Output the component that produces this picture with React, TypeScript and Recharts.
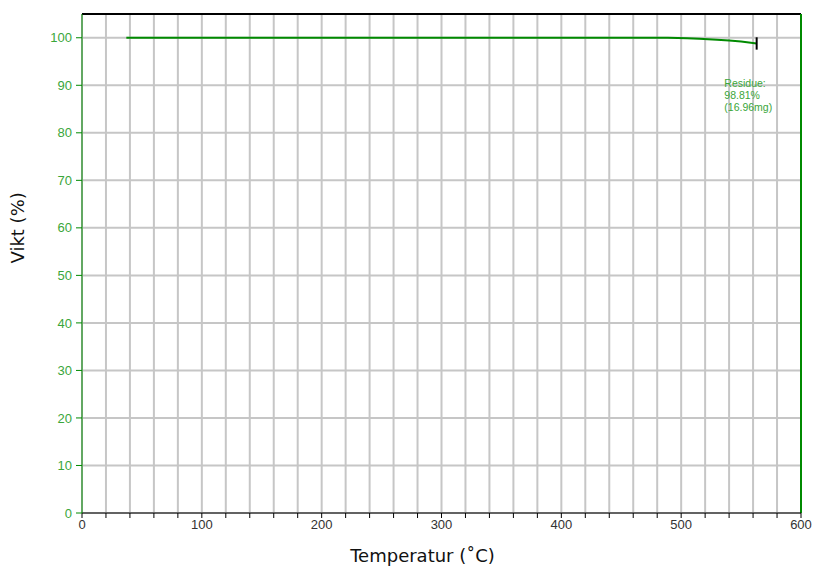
import { LineChart, Line, XAxis, YAxis, CartesianGrid, ReferenceLine, ReferenceDot } from "recharts";

const temps = [37, 100, 200, 300, 400, 489, 505, 515, 530, 540, 550, 563];
const weights = [100, 100, 100, 100, 100, 100, 99.9, 99.8, 99.6, 99.4, 99.2, 98.81];
const xTicks = [0, 20, 40, 60, 80, 100, 120, 140, 160, 180, 200, 220, 240, 260, 280, 300, 320, 340, 360, 380, 400, 420, 440, 460, 480, 500, 520, 540, 560, 580, 600];
const yTicks = [0, 10, 20, 30, 40, 50, 60, 70, 80, 90, 100];
const residueLines = ["Residue:", "98.81%", "(16.96mg)"];

const data = temps.map((t, i) => ({ t, w: weights[i] }));

const green = "#008a00";
const labelGreen = "#3aa63a";
const font = "'Liberation Sans', Arial, sans-serif";

function ResidueLabel(props: any) {
  const { viewBox } = props;
  const x = viewBox?.x ?? 0;
  const y = viewBox?.y ?? 0;
  return (
    <text x={x} y={y} fill={labelGreen} fontSize={10.5} fontFamily={font}>
      {residueLines.map((l, i) => (
        <tspan key={i} x={x} dy={i === 0 ? 0 : 12}>{l}</tspan>
      ))}
    </text>
  );
}

export default function App() {
  return (
    <div style={{ position: "fixed", left: 0, top: 0, background: "#fff" }}>
      <LineChart width={813} height={567} data={data} margin={{ top: 14, right: 12, left: 0, bottom: 0 }}>
        <CartesianGrid stroke="#c6c6c6" strokeWidth={2} />
        <XAxis
          dataKey="t"
          type="number"
          domain={[0, 600]}
          ticks={xTicks}
          interval={0}
          tickFormatter={(v: number) => (v % 100 === 0 ? String(v) : "")}
          height={54}
          tickSize={5}
          tickMargin={2}
          stroke="#000"
          tick={{ fill: "#333", fontSize: 13, fontFamily: font }}
          label={{ value: "Temperatur (˚C)", position: "insideBottom", offset: 5, dx: -19, fill: "#111", fontSize: 18, fontFamily: "'DejaVu Sans', sans-serif" }}
        />
        <YAxis
          type="number"
          domain={[0, 105]}
          ticks={yTicks}
          interval={0}
          width={82}
          tickSize={6}
          tickMargin={4}
          stroke={green}
          tick={{ fill: labelGreen, fontSize: 13, fontFamily: font }}
          label={{ value: "Vikt (%)", angle: -90, position: "insideLeft", offset: 18, fill: "#111", fontSize: 18, fontFamily: "'DejaVu Sans', sans-serif" }}
        />
        <ReferenceLine y={105} stroke="#000" strokeWidth={2} />
        <ReferenceLine x={600} stroke={green} strokeWidth={2} />
        <Line type="linear" dataKey="w" stroke={green} strokeWidth={2} dot={false} isAnimationActive={false} />
        <ReferenceLine segment={[{ x: 563, y: 97.5 }, { x: 563, y: 100.1 }]} stroke="#000" strokeWidth={2} />
        <ReferenceDot x={536} y={89.7} r={0} stroke="none" fill="none" label={<ResidueLabel />} />
      </LineChart>
    </div>
  );
}
